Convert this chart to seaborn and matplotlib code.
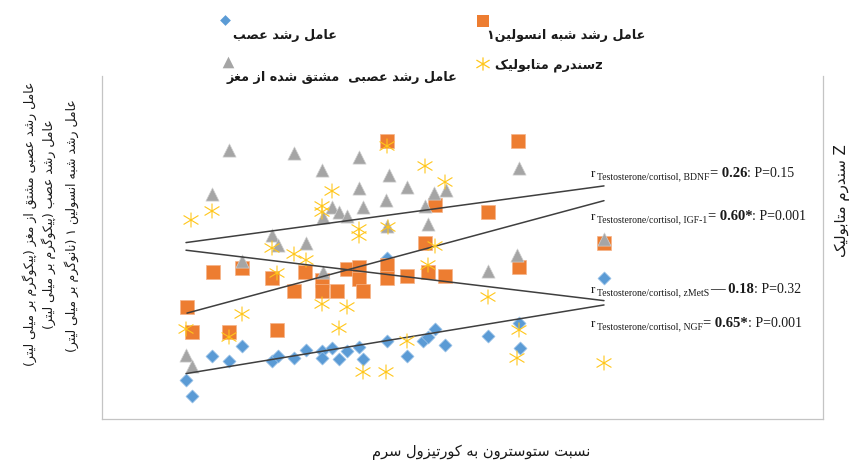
import matplotlib
matplotlib.use("Agg")
import matplotlib.pyplot as plt
from matplotlib.path import Path
from matplotlib.markers import MarkerStyle
import seaborn as sns

# ---------------- data ----------------
# testosterone / cortisol ratio (x) and the measured value for each marker
ngf_ratio = [0.84, 0.90, 1.10, 1.27, 1.40, 1.70, 1.76, 1.92, 2.04, 2.20, 2.20, 2.30, 2.37,
             2.45, 2.57, 2.61, 2.85, 2.85, 3.05, 3.21, 3.26, 3.33, 3.43, 3.86, 4.17, 4.18, 5.02]
ngf = [3.9, 2.3, 6.3, 5.8, 7.3, 5.8, 6.3, 6.1, 6.9, 6.8, 6.1, 7.1, 6.0,
       6.8, 7.2, 6.0, 7.8, 16.1, 6.3, 7.8, 8.2, 9.0, 7.4, 8.3, 9.6, 7.1, 14.1]

igf_ratio = [0.85, 0.90, 1.11, 1.27, 1.40, 1.70, 1.75, 1.92, 2.03, 2.20, 2.20, 2.35, 2.45, 2.57,
             2.57, 2.61, 2.85, 2.85, 2.85, 3.05, 3.23, 3.26, 3.33, 3.43, 3.86, 4.16, 4.17, 5.02]
igf = [11.2, 8.7, 14.7, 8.7, 15.1, 14.1, 8.9, 12.8, 14.7, 13.9, 12.8, 12.8, 15.0, 15.2,
       14.0, 12.8, 27.8, 15.4, 14.1, 14.3, 17.6, 14.7, 21.4, 14.3, 20.7, 27.8, 15.2, 17.6]

bdnf_ratio = [0.84, 0.90, 1.10, 1.27, 1.40, 1.70, 1.76, 1.92, 2.04, 2.20, 2.21, 2.21, 2.30, 2.37,
              2.45, 2.57, 2.57, 2.61, 2.84, 2.85, 2.87, 3.05, 3.23, 3.26, 3.32, 3.44, 3.86, 4.15,
              4.17, 5.02]
bdnf = [6.4, 5.3, 22.5, 26.9, 15.8, 18.4, 17.4, 26.6, 17.6, 24.9, 20.2, 14.7, 21.2, 20.7,
        20.3, 26.2, 23.1, 21.2, 21.9, 19.3, 24.4, 23.2, 21.3, 19.5, 22.6, 22.9, 14.8, 16.4,
        25.1, 18.0]

zmets_ratio = [0.84, 0.89, 1.10, 1.27, 1.40, 1.70, 1.75, 1.92, 2.04, 2.20, 2.20, 2.20, 2.30,
               2.37, 2.45, 2.57, 2.57, 2.61, 2.84, 2.85, 2.86, 3.05, 3.23, 3.26, 3.33, 3.43,
               3.86, 4.15, 4.17, 5.02]
zmets = [-1.20, 0.98, 1.16, -1.36, -0.90, 0.42, -0.08, 0.30, 0.18, -0.70, 1.26, 1.14, 1.56,
         -1.18, -0.76, 0.80, 0.66, -2.06, -2.06, 2.46, 0.84, -1.44, 2.06, 0.08, 0.46, 1.74,
         -0.56, -1.78, -1.22, -1.88]

# correlation labels
stat_sub = ["Testosterone/cortisol, BDNF", "Testosterone/cortisol, IGF-1",
            "Testosterone/cortisol, zMetS", "Testosterone/cortisol, NGF"]
stat_r = ["= 0.26", "= 0.60*", "\u2014 0.18", "= 0.65*"]
stat_p = [": P=0.15", ": P=0.001", ": P=0.32", ": P=0.001"]

# ---------------- Persian text shaping ----------------
AR_FORMS = {
    "\u0627": ("\uFE8D", "\uFE8E", None, None),
    "\u0622": ("\uFE81", "\uFE82", None, None),
    "\u0628": ("\uFE8F", "\uFE90", "\uFE91", "\uFE92"),
    "\u067E": ("\uFB56", "\uFB57", "\uFB58", "\uFB59"),
    "\u062A": ("\uFE95", "\uFE96", "\uFE97", "\uFE98"),
    "\u062F": ("\uFEA9", "\uFEAA", None, None),
    "\u0631": ("\uFEAD", "\uFEAE", None, None),
    "\u0632": ("\uFEAF", "\uFEB0", None, None),
    "\u0633": ("\uFEB1", "\uFEB2", "\uFEB3", "\uFEB4"),
    "\u0634": ("\uFEB5", "\uFEB6", "\uFEB7", "\uFEB8"),
    "\u0635": ("\uFEB9", "\uFEBA", "\uFEBB", "\uFEBC"),
    "\u0639": ("\uFEC9", "\uFECA", "\uFECB", "\uFECC"),
    "\u063A": ("\uFECD", "\uFECE", "\uFECF", "\uFED0"),
    "\u0642": ("\uFED5", "\uFED6", "\uFED7", "\uFED8"),
    "\u06A9": ("\uFB8E", "\uFB8F", "\uFB90", "\uFB91"),
    "\u06AF": ("\uFB92", "\uFB93", "\uFB94", "\uFB95"),
    "\u0644": ("\uFEDD", "\uFEDE", "\uFEDF", "\uFEE0"),
    "\u0645": ("\uFEE1", "\uFEE2", "\uFEE3", "\uFEE4"),
    "\u0646": ("\uFEE5", "\uFEE6", "\uFEE7", "\uFEE8"),
    "\u0648": ("\uFEED", "\uFEEE", None, None),
    "\u0647": ("\uFEE9", "\uFEEA", "\uFEEB", "\uFEEC"),
    "\u06CC": ("\uFBFC", "\uFBFD", "\uFBFE", "\uFBFF"),
}
RIGHT_JOIN_ONLY = set("\u0627\u0622\u062F\u0631\u0632\u0648")


def fa(text):
    """Shape Persian text into presentation forms, in visual (left-to-right) order."""
    text = text.replace("\u064A", "\u06CC").replace("\u0643", "\u06A9")
    out = []
    for i, c in enumerate(text):
        if c not in AR_FORMS:
            out.append(c)
            continue
        prev = text[i - 1] if i > 0 else ""
        nxt = text[i + 1] if i + 1 < len(text) else ""
        jp = prev in AR_FORMS and prev not in RIGHT_JOIN_ONLY
        jn = nxt in AR_FORMS and c not in RIGHT_JOIN_ONLY
        iso, fin, ini, med = AR_FORMS[c]
        out.append(med if (jp and jn) else fin if jp else ini if jn else iso)
    mirror = {"(": ")", ")": "("}
    return "".join(mirror.get(c, c) for c in reversed(out))


# ---------------- figure ----------------
sns.set_theme(style="white")
plt.rcParams["font.family"] = ["DejaVu Sans"]

W, H = 852, 464
fig = plt.figure(figsize=(W / 100, H / 100), dpi=100)
ax = fig.add_axes([102 / W, 1 - 420 / H, (823 - 102) / W, (420 - 77) / H])
ax2 = ax.twinx()

C_NGF, C_IGF, C_BDNF, C_MET = "#5B9BD5", "#ED7D31", "#A5A5A5", "#FFC000"
LINE_C = "#3f3f3f"

star_path = Path(
    [(0, 0.5), (0, -0.5), (-0.5, 0.3), (0.5, -0.3), (-0.5, -0.3), (0.5, 0.3)],
    [Path.MOVETO, Path.LINETO, Path.MOVETO, Path.LINETO, Path.MOVETO, Path.LINETO],
)
star = MarkerStyle(star_path)

sns.scatterplot(x=ngf_ratio, y=ngf, ax=ax, marker="D", s=44, color=C_NGF,
                edgecolor="#9cc3e8", linewidth=0.5, zorder=2)
sns.scatterplot(x=igf_ratio, y=igf, ax=ax, marker="s", s=90, color=C_IGF,
                edgecolor="#f5b48a", linewidth=0.5, zorder=3)
sns.scatterplot(x=bdnf_ratio, y=bdnf, ax=ax, marker="^", s=90, color=C_BDNF,
                edgecolor="#cfcfcf", linewidth=0.5, zorder=4)
sns.scatterplot(x=zmets_ratio, y=zmets, ax=ax2, marker=star, s=115, color=C_MET, zorder=2)
coll = ax2.collections[-1]
coll.set_facecolor("none")
coll.set_edgecolor("#FFC61A")
coll.set_linewidth(0.8)

line_kws = dict(color=LINE_C, lw=1.1, zorder=6)
sns.regplot(x=ngf_ratio, y=ngf, ax=ax, scatter=False, ci=None, truncate=True, line_kws=line_kws)
sns.regplot(x=igf_ratio, y=igf, ax=ax, scatter=False, ci=None, truncate=True, line_kws=line_kws)
sns.regplot(x=bdnf_ratio, y=bdnf, ax=ax, scatter=False, ci=None, truncate=True, line_kws=line_kws)
sns.regplot(x=zmets_ratio, y=zmets, ax=ax2, scatter=False, ci=None, truncate=True,
            line_kws=line_kws)

ax.set_xlim(0, 7.21)
ax.set_ylim(0, 34.3)
ax2.set_ylim(-3, 3.86)
for a in (ax, ax2):
    a.set_xticks([])
    a.set_yticks([])
    a.set_xlabel("")
    a.set_ylabel("")
    a.grid(False)
    for sp in a.spines.values():
        sp.set_visible(False)
for side in ("left", "right", "bottom"):
    ax.spines[side].set_visible(True)
    ax.spines[side].set_color("#c4c4c4")
    ax.spines[side].set_linewidth(0.9)

# ---------------- legend (markers above Persian labels) ----------------
lax = fig.add_axes([0, 0, 1, 1], zorder=10)
lax.set_xlim(0, W)
lax.set_ylim(H, 0)
lax.axis("off")
lax.patch.set_visible(False)
lax.scatter([225], [21], marker="D", s=30, color=C_NGF, linewidths=0)
lax.scatter([483], [22], marker="s", s=70, color=C_IGF, linewidths=0)
lax.scatter([228], [63], marker="^", s=70, color=C_BDNF, linewidths=0)
lax.scatter([483], [65], marker=star, s=90, facecolor="none", edgecolor="#FFC61A",
            linewidths=0.9)

leg_kw = dict(fontweight="bold", fontsize=9.2, color="#1a1a1a", ha="right", va="center")
lax.text(337, 35, fa("عامل رشد عصب"), **leg_kw)
lax.text(645, 35, fa("عامل رشد شبه انسولین۱"), **leg_kw)
lax.text(457, 78, fa("عامل رشد عصبی  مشتق شده از مغز"), **leg_kw)
lax.text(603, 65, fa("zسندرم متابولیک"), **leg_kw)

# ---------------- axis titles ----------------
ylab_kw = dict(fontsize=9, color="#1a1a1a", rotation=90, ha="center", va="center")
lax.text(30, 224, fa("عامل رشد عصبی مشتق از مغز (پیکوگرم بر میلی لیتر)"), **ylab_kw)
lax.text(49, 224, fa("عامل رشد عصب (پیکوگرم بر میلی لیتر)"), **ylab_kw)
lax.text(72, 226, fa("عامل رشد شبه انسولین ۱ (نانوگرم بر میلی لیتر)"), **ylab_kw)
lax.text(842, 201, fa("Z سندرم متابولیک"), fontsize=10.8, color="#1a1a1a",
         rotation=90, ha="center", va="center")
lax.text(481, 452, fa("نسبت ستوسترون به کورتیزول سرم"), fontsize=10.5, color="#1a1a1a",
         ha="center", va="center")

# ---------------- correlation annotations ----------------
renderer = fig.canvas.get_renderer()
serif = "Liberation Serif"
baselines = [177, 220, 293, 327]
for sub, rtxt, ptxt, base in zip(stat_sub, stat_r, stat_p, baselines):
    x = 591
    pieces = [("r", 9.5, "normal", 0, 2),
              (sub, 7.0, "normal", 2.5, 0),
              (rtxt, 10.5, "bold", 0, 0),
              (ptxt, 10, "normal", 0, 0)]
    for txt, size, weight, dy, gap in pieces:
        t = lax.text(x, base + dy, txt, fontsize=size, fontweight=weight, family=serif,
                     color="#1a1a1a", ha="left", va="baseline")
        x += t.get_window_extent(renderer).width + gap

fig.savefig("out.png", dpi=100)
